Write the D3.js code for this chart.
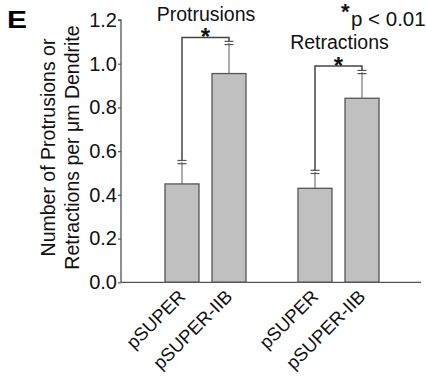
<!DOCTYPE html>
<html><head><meta charset="utf-8">
<script src="https://cdn.jsdelivr.net/npm/d3@7"></script>
<style>
html,body{margin:0;padding:0;background:#fff;}
svg{display:block;font-family:"Liberation Sans",Arial,Helvetica,sans-serif;}
</style></head>
<body>
<svg id="chart" width="426" height="381"></svg>
<script>
const groups = ["Protrusions", "Retractions"];
const conditions = ["pSUPER", "pSUPER-IIB"];
const protrusionMeans = [0.45, 0.955];
const protrusionSEM = [0.10, 0.14];
const retractionMeans = [0.43, 0.842];
const retractionSEM = [0.075, 0.12];
const yTicks = [0.0, 0.2, 0.4, 0.6, 0.8, 1.0, 1.2];
const yTitle = ["Number of Protrusions or", "Retractions per \u03bcm Dendrite"];
const panelLetter = "E";
const sigNote = "p < 0.01";

const data = [
  {group: groups[0], means: protrusionMeans, sem: protrusionSEM},
  {group: groups[1], means: retractionMeans, sem: retractionSEM}
];

(function(){
const svg = d3.select("#chart");
const axisColor = "#555";
const mLeft = 121, mRight = 421, mTop = 20, mBottom = 282.3;

const y = d3.scaleLinear().domain([0, 1.2]).range([mBottom, mTop]);
const xg = d3.scaleBand().domain(groups).range([139, 405]).padding(0);
const xc = d3.scaleBand().domain(conditions).range([26, 107]).paddingInner(0.277).paddingOuter(0);

const g = svg.selectAll("g.grp").data(data).join("g")
  .attr("class", "grp")
  .attr("transform", d => `translate(${xg(d.group)},0)`);

const items = g.selectAll("g.item").data(d => conditions.map((c, i) => ({c, m: d.means[i], e: d.sem[i]}))).join("g").attr("class","item");

items.append("line")
  .attr("x1", d => xc(d.c) + xc.bandwidth()/2)
  .attr("x2", d => xc(d.c) + xc.bandwidth()/2)
  .attr("y1", d => y(d.m))
  .attr("y2", d => y(d.m + d.e))
  .attr("stroke", "#777").attr("stroke-width", 1.2);
[-1.6, 1.6].forEach(off => {
  items.append("line")
    .attr("x1", d => xc(d.c) + xc.bandwidth()/2 - 4.5)
    .attr("x2", d => xc(d.c) + xc.bandwidth()/2 + 4.5)
    .attr("y1", d => y(d.m + d.e) + off)
    .attr("y2", d => y(d.m + d.e) + off)
    .attr("stroke", "#555").attr("stroke-width", 1.2);
});

items.append("rect")
  .attr("x", d => xc(d.c))
  .attr("width", xc.bandwidth())
  .attr("y", d => y(d.m))
  .attr("height", d => y(0) - y(d.m))
  .attr("fill", "#c0c0c0")
  .attr("stroke", "#555").attr("stroke-width", 1.3);

const brY = [37.5, 66];
g.each(function(d, gi) {
  const sel = d3.select(this);
  const x1 = xc(conditions[0]) + xc.bandwidth()/2;
  const x2 = xc(conditions[1]) + xc.bandwidth()/2;
  const yb = brY[gi];
  const y1 = y(d.means[0] + d.sem[0]) - 1.6;
  const y2 = y(d.means[1] + d.sem[1]) - 1.6;
  sel.append("path")
    .attr("d", `M${x1},${y1}V${yb}H${x2}V${y2}`)
    .attr("fill", "none").attr("stroke", "#444").attr("stroke-width", 1.5);
  sel.append("text")
    .attr("x", (x1 + x2)/2).attr("y", yb + 7.5)
    .attr("text-anchor", "middle")
    .attr("font-size", 24).attr("font-weight", "bold").attr("fill", "#111")
    .text("*");
});

svg.append("text").attr("x", xg(groups[0]) + xg.bandwidth()/2 + 0.5).attr("y", 21)
  .attr("text-anchor", "middle").attr("font-size", 19.5).attr("fill", "#111").text(groups[0]);
svg.append("text").attr("x", xg(groups[1]) + xg.bandwidth()/2 + 1).attr("y", 49)
  .attr("text-anchor", "middle").attr("font-size", 19.5).attr("fill", "#111").text(groups[1]);

const yAxis = d3.axisLeft(y).tickValues(yTicks).tickFormat(d3.format(".1f")).tickSize(3).tickPadding(1);
const ya = svg.append("g").attr("transform", `translate(${mLeft},0)`).call(yAxis);
ya.select(".domain").attr("stroke", axisColor).attr("stroke-width", 1.3).attr("d", `M-3,${mTop}H0V${mBottom}`);
ya.selectAll(".tick line").attr("stroke", axisColor).attr("stroke-width", 1.2);
ya.selectAll(".tick text").attr("font-size", 20).attr("fill", "#111").attr("font-family", "Liberation Sans, Arial, sans-serif");

svg.append("line").attr("x1", mLeft).attr("x2", mRight).attr("y1", mBottom).attr("y2", mBottom)
  .attr("stroke", axisColor).attr("stroke-width", 1.3);

g.selectAll("text.xl").data(conditions).join("text")
  .attr("class", "xl")
  .attr("text-anchor", "end")
  .attr("font-size", 18.5).attr("fill", "#111")
  .attr("transform", c => `translate(${xc(c) + xc.bandwidth()/2 - 5},${mBottom + 6}) rotate(-45)`)
  .attr("dy", "0.72em")
  .text(c => c);

const yt = svg.append("text")
  .attr("transform", `translate(55,147.5) rotate(-90)`)
  .attr("text-anchor", "middle").attr("font-size", 19.5).attr("fill", "#111");
yt.append("tspan").attr("x", 0).attr("y", 0).text(yTitle[0]);
yt.append("tspan").attr("x", 0).attr("y", 24).text(yTitle[1]);

svg.append("text").attr("transform", "translate(7,28.3) scale(1.3,1)").attr("font-size", 23).attr("font-weight", "bold")
  .attr("font-family", "Liberation Sans, Arial, sans-serif").attr("fill", "#000").text(panelLetter);

svg.append("text").attr("x", 341).attr("y", 19).attr("font-size", 22).attr("font-weight", "bold").attr("fill", "#111").text("*");
svg.append("text").attr("x", 351).attr("y", 25.5).attr("font-size", 20.5).attr("fill", "#111").text(sigNote);
})();
</script>
</body></html>
